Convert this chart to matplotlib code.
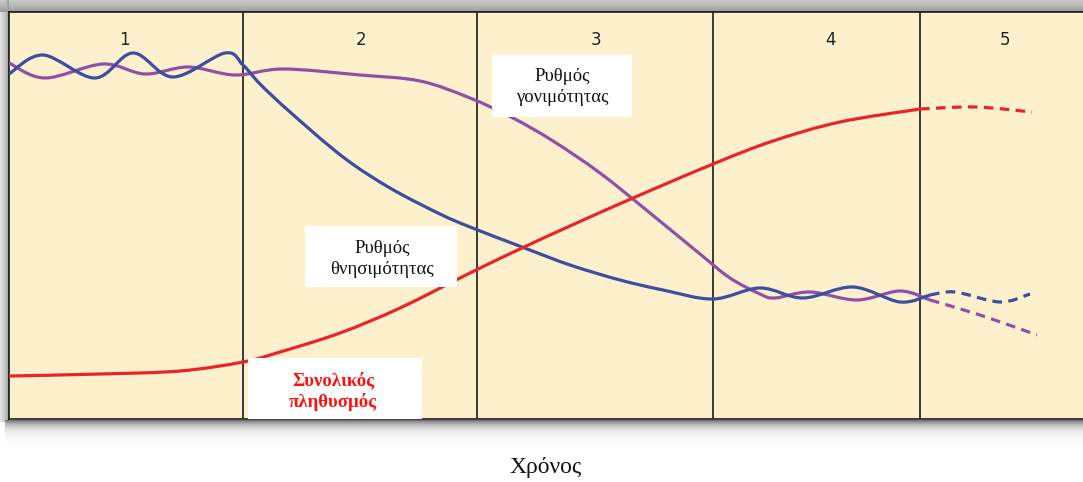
import numpy as np
import matplotlib
matplotlib.use('Agg')
import matplotlib.pyplot as plt
from matplotlib.patches import Rectangle, PathPatch
from matplotlib.path import Path

# Demographic transition model
# time axis: arbitrary units, level axis: arbitrary units (0 = bottom of frame)

stage_labels = ['1', '2', '3', '4', '5']
stage_label_x = [124, 361, 596, 831, 1005]
stage_bounds = [243, 477, 713, 920]

# death rate (blue)
death_t = [9, 43, 95, 133, 173, 225, 243, 260, 290, 343, 390, 440, 470, 522, 570,
           620, 663, 713, 760, 803, 853, 900, 930]
death_v = [345, 364, 341, 366, 342, 366, 354, 335, 307, 262, 231, 205, 192, 172, 154,
           139, 129, 120, 131, 121, 132, 117, 124]
death_proj_t = [930, 955, 1000, 1030]
death_proj_v = [124, 127, 117, 125]

# birth rate (purple)
birth_t = [9, 45, 103, 145, 188, 235, 283, 360, 420, 470, 513, 553, 600, 650,
           700, 730, 760, 775, 810, 857, 900, 930]
birth_v = [356, 341, 355, 345, 352, 344, 350, 344, 338, 321, 301, 278, 246, 206,
           165, 141, 125, 121, 127, 119, 128, 119]
birth_proj_t = [930, 980, 1037]
birth_proj_v = [119, 104, 84]

# total population (red)
pop_t = [9, 100, 180, 243, 280, 340, 400, 470, 522, 570, 633, 713, 773, 840, 920]
pop_v = [43, 45, 48, 57, 67, 86, 111, 146, 171, 193, 221, 255, 278, 297, 310]
pop_proj_t = [920, 975, 1032]
pop_proj_v = [310, 312, 307]

BLUE = '#3b4ea0'
PURPLE = '#9150a8'
RED = '#e8252b'
BG = '#fdf0cd'


def smooth_path(t, v):
    # Catmull-Rom through the read points, drawn as cubic Bezier segments
    p = np.column_stack([t, v]).astype(float)
    n = len(p)
    verts = [p[0]]
    codes = [Path.MOVETO]
    for i in range(n - 1):
        prev = p[i - 1] if i > 0 else p[i]
        nxt = p[i + 2] if i + 2 < n else p[i + 1]
        verts += [p[i] + (p[i + 1] - prev) / 6, p[i + 1] - (nxt - p[i]) / 6, p[i + 1]]
        codes += [Path.CURVE4] * 3
    return Path(verts, codes)


W, H = 1083, 482
fig = plt.figure(figsize=(W / 100, H / 100), dpi=100, facecolor='white')

# soft drop shadow around the frame
yy, xx = np.mgrid[0:H, 0:W]
dx = np.maximum(9 - xx, 0)
dtop = np.maximum(12 - yy, 0)
dbot = np.maximum(yy - 419, 0)
alpha = np.zeros((H, W))
alpha = np.maximum(alpha, np.where((dx > 0) & (yy <= 421), 0.45 * np.exp(-dx / 7.0), 0))
alpha = np.maximum(alpha, np.where(dtop > 0, 0.42 * np.exp(-dtop / 18.0), 0))
alpha = np.maximum(alpha, np.where((dbot > 0) & (xx >= 5), 0.65 * np.exp(-dbot / 6.0), 0))
shadow = np.zeros((H, W, 4))
shadow[..., 3] = alpha
fig.figimage(shadow, xo=0, yo=0, origin='upper', zorder=0)

ax = fig.add_axes([9 / W, (H - 419) / H, (W - 9) / W, 407 / H])
ax.set_facecolor(BG)
ax.set_xlim(9, W)
ax.set_ylim(0, 407)
ax.set_xticks([])
ax.set_yticks([])
for side in ['left', 'top', 'bottom']:
    ax.spines[side].set_color('#2b2b2b')
    ax.spines[side].set_linewidth(1.3)
ax.spines['right'].set_visible(False)

for b in stage_bounds:
    ax.axvline(b, color='#2b2b2b', lw=1.3, zorder=1)

for lab, x in zip(stage_labels, stage_label_x):
    ax.text(x, 379, lab, ha='center', va='center', fontsize=12,
            family='DejaVu Sans', color='#222222')

lw = 2.3
series = [
    (birth_t, birth_v, PURPLE, '-'),
    (death_t, death_v, BLUE, '-'),
    (pop_t, pop_v, RED, '-'),
    (birth_proj_t, birth_proj_v, PURPLE, (0, (3, 2))),
    (death_proj_t, death_proj_v, BLUE, (0, (3, 2))),
    (pop_proj_t, pop_proj_v, RED, (0, (3, 2))),
]
for t, v, c, ls in series:
    ax.add_patch(PathPatch(smooth_path(t, v), fill=False, edgecolor=c, lw=lw,
                           linestyle=ls, capstyle='butt', zorder=3))

# white label boxes
ax.add_patch(Rectangle((305, 132), 152, 61, facecolor='white', edgecolor='none', zorder=4))
ax.add_patch(Rectangle((492, 302), 140, 62, facecolor='white', edgecolor='none', zorder=4))
ax.add_patch(Rectangle((248, 0), 174, 61, facecolor='white', edgecolor='none', zorder=4))

serif = 'Liberation Serif'
ax.text(382, 160, 'Ρυθμός\nθνησιμότητας', ha='center', va='center', fontsize=13.5,
        family=serif, color='#111111', linespacing=1.25, zorder=5)
ax.text(562, 332, 'Ρυθμός\nγονιμότητας', ha='center', va='center', fontsize=13.5,
        family=serif, color='#111111', linespacing=1.25, zorder=5)
ax.text(333, 28, 'Συνολικός\nπληθυσμός', ha='center', va='center', fontsize=13.5,
        family=serif, weight='bold', color='#ff1111', linespacing=1.25, zorder=5)

fig.text(546 / W, 1 - 468 / H, 'Χρόνος', ha='center', va='center', fontsize=17,
         family=serif, color='#111111')

fig.savefig('out.png', dpi=100, facecolor='white')
